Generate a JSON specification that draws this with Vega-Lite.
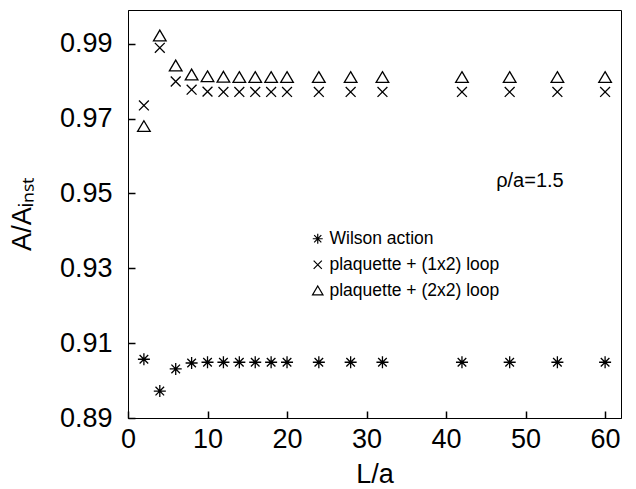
{
  "$schema": "https://vega.github.io/schema/vega-lite/v6.json",
  "width": 493,
  "height": 408,
  "autosize": {"type": "none"},
  "padding": {"left": 128, "top": 10, "right": 15, "bottom": 71},
  "background": "white",
  "config": {
    "view": {"stroke": "black", "strokeWidth": 1},
    "font": "Liberation Sans",
    "axis": {
      "grid": false,
      "labelColor": "black",
      "titleColor": "black",
      "labelFontSize": 27,
      "titleFontSize": 27,
      "titleFontWeight": "normal"
    }
  },
  "data": {
    "values": [
      {"series": "Wilson action", "L": 2, "ratio": 0.9057},
      {"series": "Wilson action", "L": 4, "ratio": 0.8972},
      {"series": "Wilson action", "L": 6, "ratio": 0.9031},
      {"series": "Wilson action", "L": 8, "ratio": 0.9047},
      {"series": "Wilson action", "L": 10, "ratio": 0.9049},
      {"series": "Wilson action", "L": 12, "ratio": 0.9049},
      {"series": "Wilson action", "L": 14, "ratio": 0.9049},
      {"series": "Wilson action", "L": 16, "ratio": 0.9049},
      {"series": "Wilson action", "L": 18, "ratio": 0.9049},
      {"series": "Wilson action", "L": 20, "ratio": 0.9049},
      {"series": "Wilson action", "L": 24, "ratio": 0.9049},
      {"series": "Wilson action", "L": 28, "ratio": 0.9049},
      {"series": "Wilson action", "L": 32, "ratio": 0.9049},
      {"series": "Wilson action", "L": 42, "ratio": 0.9049},
      {"series": "Wilson action", "L": 48, "ratio": 0.9049},
      {"series": "Wilson action", "L": 54, "ratio": 0.9049},
      {"series": "Wilson action", "L": 60, "ratio": 0.9049},
      {"series": "plaquette + (1x2) loop", "L": 2, "ratio": 0.9735},
      {"series": "plaquette + (1x2) loop", "L": 4, "ratio": 0.9889},
      {"series": "plaquette + (1x2) loop", "L": 6, "ratio": 0.9799},
      {"series": "plaquette + (1x2) loop", "L": 8, "ratio": 0.9777},
      {"series": "plaquette + (1x2) loop", "L": 10, "ratio": 0.9772},
      {"series": "plaquette + (1x2) loop", "L": 12, "ratio": 0.9771},
      {"series": "plaquette + (1x2) loop", "L": 14, "ratio": 0.9771},
      {"series": "plaquette + (1x2) loop", "L": 16, "ratio": 0.9771},
      {"series": "plaquette + (1x2) loop", "L": 18, "ratio": 0.9771},
      {"series": "plaquette + (1x2) loop", "L": 20, "ratio": 0.9771},
      {"series": "plaquette + (1x2) loop", "L": 24, "ratio": 0.9771},
      {"series": "plaquette + (1x2) loop", "L": 28, "ratio": 0.9771},
      {"series": "plaquette + (1x2) loop", "L": 32, "ratio": 0.9771},
      {"series": "plaquette + (1x2) loop", "L": 42, "ratio": 0.9771},
      {"series": "plaquette + (1x2) loop", "L": 48, "ratio": 0.9771},
      {"series": "plaquette + (1x2) loop", "L": 54, "ratio": 0.9771},
      {"series": "plaquette + (1x2) loop", "L": 60, "ratio": 0.9771},
      {"series": "plaquette + (2x2) loop", "L": 2, "ratio": 0.9679},
      {"series": "plaquette + (2x2) loop", "L": 4, "ratio": 0.9921},
      {"series": "plaquette + (2x2) loop", "L": 6, "ratio": 0.9841},
      {"series": "plaquette + (2x2) loop", "L": 8, "ratio": 0.9817},
      {"series": "plaquette + (2x2) loop", "L": 10, "ratio": 0.9812},
      {"series": "plaquette + (2x2) loop", "L": 12, "ratio": 0.9811},
      {"series": "plaquette + (2x2) loop", "L": 14, "ratio": 0.9810},
      {"series": "plaquette + (2x2) loop", "L": 16, "ratio": 0.9810},
      {"series": "plaquette + (2x2) loop", "L": 18, "ratio": 0.9810},
      {"series": "plaquette + (2x2) loop", "L": 20, "ratio": 0.9810},
      {"series": "plaquette + (2x2) loop", "L": 24, "ratio": 0.9810},
      {"series": "plaquette + (2x2) loop", "L": 28, "ratio": 0.9810},
      {"series": "plaquette + (2x2) loop", "L": 32, "ratio": 0.9810},
      {"series": "plaquette + (2x2) loop", "L": 42, "ratio": 0.9810},
      {"series": "plaquette + (2x2) loop", "L": 48, "ratio": 0.9810},
      {"series": "plaquette + (2x2) loop", "L": 54, "ratio": 0.9810},
      {"series": "plaquette + (2x2) loop", "L": 60, "ratio": 0.9810}
    ]
  },
  "layer": [
    {
      "mark": {"type": "point", "filled": false, "color": "black", "strokeWidth": 1.3, "opacity": 1, "size": 160},
      "encoding": {
        "x": {
          "field": "L", "type": "quantitative",
          "scale": {"domain": [0, 62], "nice": false, "zero": false},
          "axis": {"orient": "bottom", "values": [0, 10, 20, 30, 40, 50, 60], "tickSize": -7, "tickColor": "black", "tickWidth": 1.5, "domainColor": "black", "labelPadding": 15, "title": "L/a", "titlePadding": 9, "labelFlush": false}
        },
        "y": {
          "field": "ratio", "type": "quantitative",
          "scale": {"domain": [0.89, 0.999], "nice": false, "zero": false},
          "axis": {"orient": "left", "values": [0.89, 0.91, 0.93, 0.95, 0.97, 0.99], "format": ".2f", "tickSize": -7, "tickColor": "black", "tickWidth": 1.5, "domainColor": "black", "labelPadding": 23, "title": "A/Aᵢₙₛₜ", "titlePadding": 23, "labelFlush": false}
        },
        "shape": {
          "field": "series", "type": "nominal",
          "scale": {
            "domain": ["Wilson action", "plaquette + (1x2) loop", "plaquette + (2x2) loop"],
            "range": [
              "M-0.95,0L0.95,0M0,-0.95L0,0.95M-0.68,-0.68L0.68,0.68M-0.68,0.68L0.68,-0.68",
              "M-0.78,-0.78L0.78,0.78M-0.78,0.78L0.78,-0.78",
              "M0,-0.9L1,0.8L-1,0.8Z"
            ]
          },
          "legend": {
            "orient": "none", "legendX": 181, "legendY": 220, "title": null,
            "labelFont": "Liberation Sans", "labelFontSize": 17.5, "labelColor": "black",
            "labelLimit": 400, "symbolStrokeColor": "black", "symbolStrokeWidth": 1.2,
            "symbolFillColor": "transparent",
            "symbolSize": 110, "rowPadding": 7, "labelOffset": 3, "padding": 0
          }
        }
      }
    },
    {
      "data": {"values": [{"label": "ρ/a=1.5", "L": 46.3, "ratio": 0.9532}]},
      "mark": {"type": "text", "align": "left", "baseline": "middle", "font": "Liberation Sans", "fontSize": 20, "color": "black"},
      "encoding": {
        "x": {"field": "L", "type": "quantitative"},
        "y": {"field": "ratio", "type": "quantitative"},
        "text": {"field": "label"}
      }
    }
  ]
}
